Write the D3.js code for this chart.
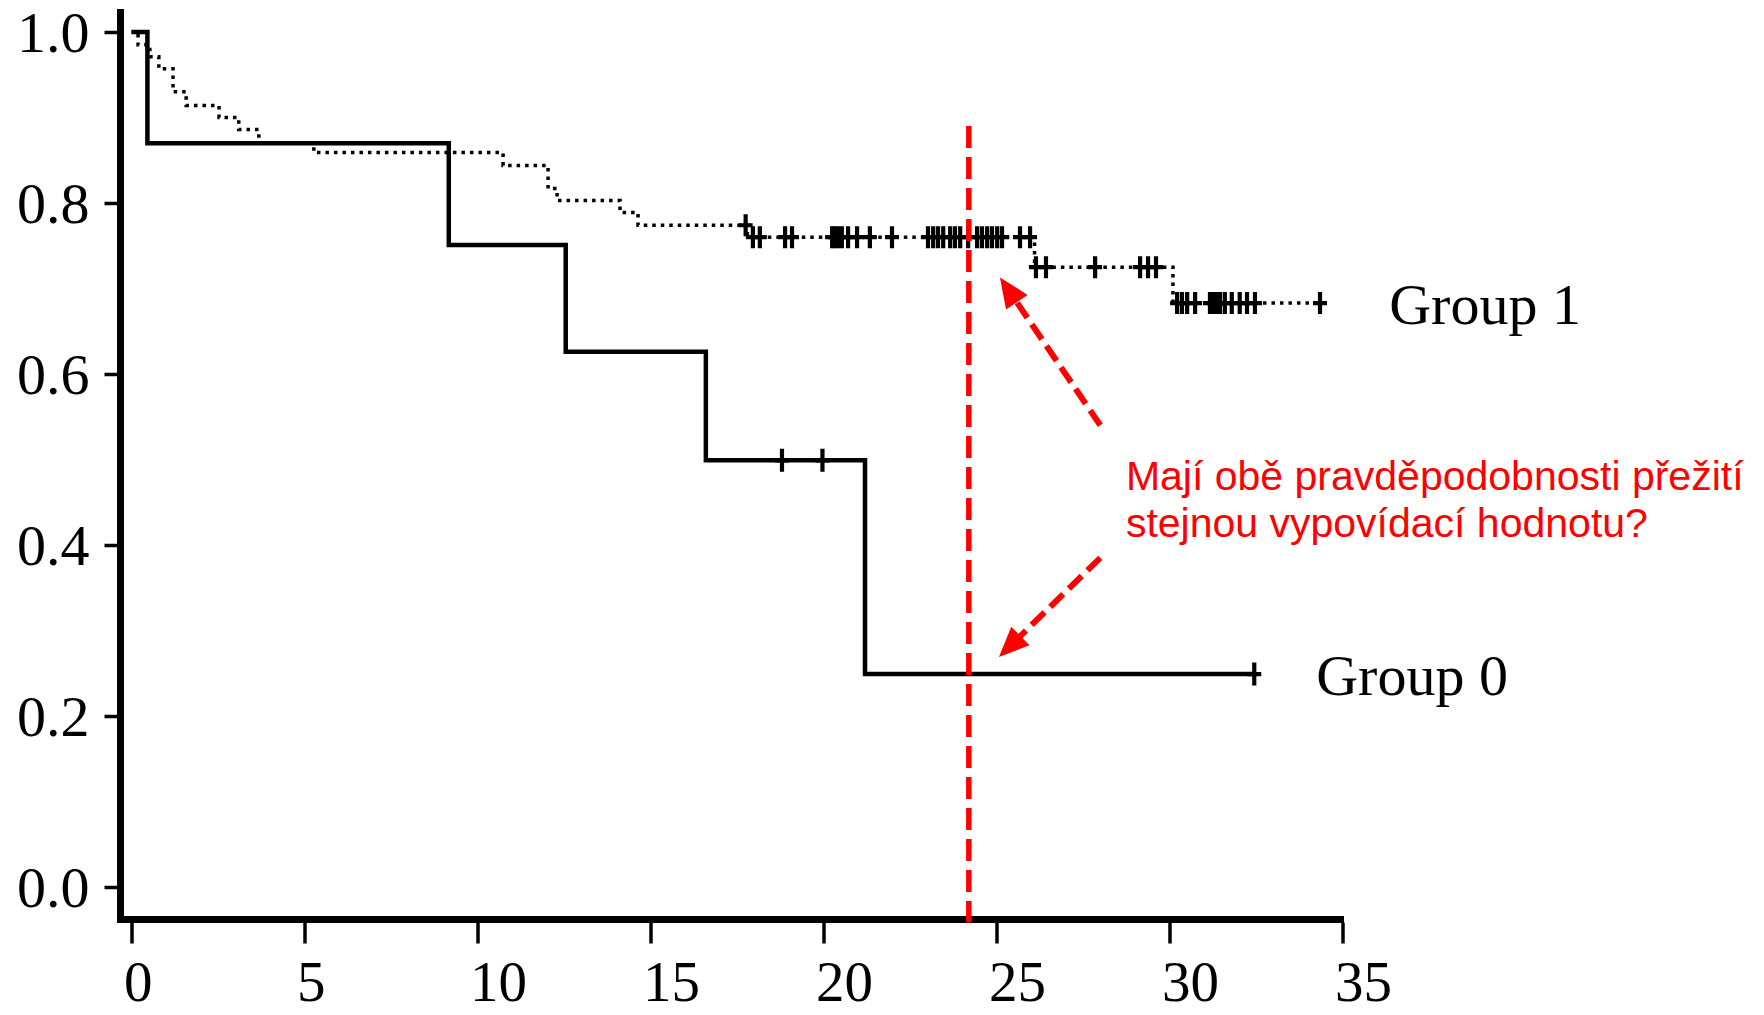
<!DOCTYPE html>
<html><head><meta charset="utf-8">
<script src="https://cdn.jsdelivr.net/npm/d3@7"></script>
<style>html,body{margin:0;padding:0;background:#fff;} svg{display:block}</style>
</head><body>
<svg id="chart" width="1764" height="1015"></svg>
<script>
// ---------- data ----------
const xTicks = [0, 5, 10, 15, 20, 25, 30, 35];
const yTicks = [0.0, 0.2, 0.4, 0.6, 0.8, 1.0];

const group0Times = [0, 0.46, 9.17, 12.55, 16.6, 21.2];
const group0Surv  = [1.0, 0.870, 0.751, 0.626, 0.499, 0.249];
const group0End = 32.45;
const group0Censor = [18.8, 19.97, 32.45];

const group1Times = [0, 0.19, 0.53, 0.79, 1.2, 1.58, 2.53, 3.1, 3.68, 5.27, 10.74, 12.04, 12.3, 14.12, 14.64, 17.8, 26.1, 30.1];
const group1Surv  = [1.0, 0.985, 0.971, 0.957, 0.930, 0.914, 0.900, 0.886, 0.870, 0.859, 0.844, 0.817, 0.803, 0.789, 0.774, 0.760, 0.725, 0.683];
const group1End = 34.35;
const group1Censor = [17.75, 17.96, 18.16, 18.89, 19.09, 20.25, 20.33, 20.42, 20.53, 20.71, 20.97, 21.34, 21.98,
  23.02, 23.17, 23.31, 23.46, 23.66, 23.8, 23.95, 24.18, 24.44, 24.58, 24.73, 24.87, 25.02, 25.16, 25.68, 25.97,
  26.14, 26.43, 27.85, 29.15, 29.38, 29.61,
  30.22, 30.36, 30.51, 30.74, 31.17, 31.26, 31.37, 31.46, 31.6, 31.8, 32.03, 32.24, 32.47, 34.35];

const groupLabels = ["Group 0", "Group 1"];
const groupLabelPos = [[34.24, 0.2246], [36.35, 0.658]];

const refTime = 24.2;
const refTop = 0.89;
const questionLines = ["Mají obě pravděpodobnosti přežití", "stejnou vypovídací hodnotu?"];
const questionPos = [[28.74, 0.464], [28.74, 0.409]];
const arrows = [ // [tailT, tailV, tipT, tipV]
  [28.0, 0.540, 25.1, 0.713],
  [28.0, 0.385, 25.07, 0.269]
];

// ---------- chart ----------
const svg = d3.select("#chart");
const x = d3.scaleLinear().domain([0, 35]).range([131.5, 1342.5]);
const y = d3.scaleLinear().domain([0, 1]).range([887, 32]);

const axisX = 120.5;   // y-axis line position
const axisY = 919.5;   // x-axis line position
const serif = "'Liberation Serif', 'Times New Roman', serif";

// axis frame (L shape)
svg.append("path")
  .attr("d", `M${axisX},9 V${axisY} H${x(35)+1.5}`)
  .attr("fill", "none").attr("stroke", "#000").attr("stroke-width", 7)
  .attr("stroke-linejoin", "miter");

// y axis ticks & labels
const gy = svg.append("g").attr("transform", `translate(${axisX - 3},0)`)
  .call(d3.axisLeft(y).tickValues(yTicks).tickFormat(d3.format(".1f")).tickSize(13).tickPadding(15));
gy.select(".domain").remove();
gy.selectAll(".tick line").attr("stroke", "#000").attr("stroke-width", 3.5);
gy.selectAll(".tick text").attr("font-family", serif).attr("font-size", 58).attr("fill", "#000")
  .attr("dy", "0.34em");

// x axis ticks & labels
const gx = svg.append("g").attr("transform", `translate(0,${axisY + 3})`)
  .call(d3.axisBottom(x).tickValues(xTicks).tickFormat(d3.format("d")).tickSize(21).tickPadding(0));
gx.select(".domain").remove();
gx.selectAll(".tick line").attr("stroke", "#000").attr("stroke-width", 3.5);
gx.selectAll(".tick text").attr("font-family", serif).attr("font-size", 57).attr("fill", "#000")
  .attr("text-anchor", "start").attr("x", -8).attr("y", 78).attr("dy", null);

// step helpers
function stepPoints(times, surv, end) {
  const pts = times.map((t, i) => [t, surv[i]]);
  pts.push([end, surv[surv.length - 1]]);
  return pts;
}
function survAt(times, surv, t) {
  let v = surv[0];
  for (let i = 0; i < times.length; i++) if (times[i] <= t) v = surv[i];
  return v;
}
const stepLine = d3.line().x(d => x(d[0])).y(d => y(d[1])).curve(d3.curveStepAfter);

// group 1 (dotted)
svg.append("path").datum(stepPoints(group1Times, group1Surv, group1End))
  .attr("d", stepLine).attr("fill", "none").attr("stroke", "#000")
  .attr("stroke-width", 3.5).attr("stroke-dasharray", "3.5 5");

// group 0 (solid)
svg.append("path").datum(stepPoints(group0Times, group0Surv, group0End))
  .attr("d", stepLine).attr("fill", "none").attr("stroke", "#000")
  .attr("stroke-width", 4.5).attr("stroke-linejoin", "miter");

// censor marks
function plus(cx, cy, h, w) {
  return `M${cx},${cy - h/2}V${cy + h/2}M${cx - w/2},${cy}H${cx + w/2}`;
}
svg.append("g").selectAll("path").data(group1Censor).join("path")
  .attr("d", t => plus(x(t), y(survAt(group1Times, group1Surv, t)), 22, 14))
  .attr("stroke", "#000").attr("stroke-width", 4.2).attr("fill", "none");
svg.append("g").selectAll("path").data(group0Censor).join("path")
  .attr("d", t => plus(x(t), y(survAt(group0Times, group0Surv, t)), 23, 14))
  .attr("stroke", "#000").attr("stroke-width", 4.2).attr("fill", "none");

// group labels
svg.append("g").selectAll("text").data(groupLabels).join("text")
  .attr("x", (d, i) => x(groupLabelPos[i][0]))
  .attr("y", (d, i) => y(groupLabelPos[i][1]))
  .attr("font-family", serif).attr("font-size", 58).attr("fill", "#000")
  .text(d => d);

// red reference line
svg.append("line")
  .attr("x1", x(refTime)).attr("x2", x(refTime))
  .attr("y1", y(refTop)).attr("y2", axisY + 3)
  .attr("stroke", "#ff0000").attr("stroke-width", 5.5).attr("stroke-dasharray", "22 9");

// arrows
const red = "#ff0000";
arrows.forEach(a => {
  const x0 = x(a[0]), y0 = y(a[1]), x1 = x(a[2]), y1 = y(a[3]);
  const dx = x1 - x0, dy = y1 - y0, L = Math.hypot(dx, dy);
  const ux = dx / L, uy = dy / L;
  const headL = 30, headW = 13;
  const bx = x1 - ux * headL, by = y1 - uy * headL;
  svg.append("line").attr("x1", x0).attr("y1", y0).attr("x2", bx + ux * 2).attr("y2", by + uy * 2)
    .attr("stroke", red).attr("stroke-width", 6).attr("stroke-dasharray", "18 8");
  svg.append("path")
    .attr("d", `M${x1},${y1}L${bx - uy * headW},${by + ux * headW}L${bx + uy * headW},${by - ux * headW}Z`)
    .attr("fill", red);
});

// question text
svg.append("g").selectAll("text").data(questionLines).join("text")
  .attr("x", (d, i) => x(questionPos[i][0]))
  .attr("y", (d, i) => y(questionPos[i][1]))
  .attr("font-family", "'Liberation Sans', Arial, sans-serif").attr("font-size", 41)
  .attr("fill", red).text(d => d);
</script>
</body></html>
